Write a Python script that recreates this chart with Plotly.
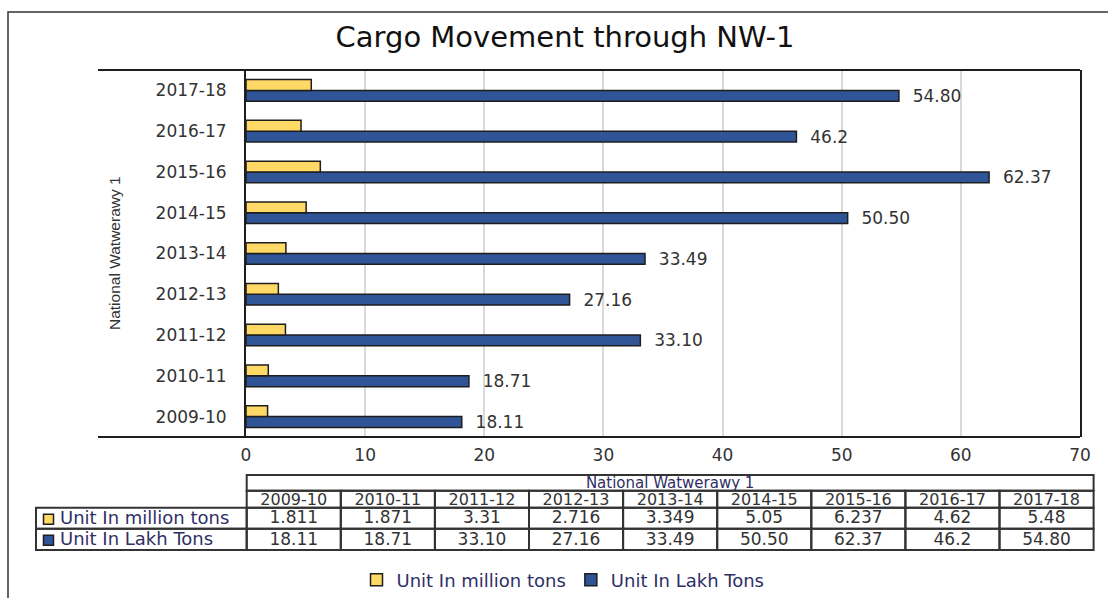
import plotly.graph_objects as go

# ---------------- data ----------------
years = ["2009-10", "2010-11", "2011-12", "2012-13", "2013-14",
         "2014-15", "2015-16", "2016-17", "2017-18"]
million_tons = [1.811, 1.871, 3.31, 2.716, 3.349, 5.05, 6.237, 4.62, 5.48]
lakh_tons = [18.11, 18.71, 33.10, 27.16, 33.49, 50.50, 62.37, 46.2, 54.80]
million_labels = ["1.811", "1.871", "3.31", "2.716", "3.349", "5.05", "6.237", "4.62", "5.48"]
lakh_labels = ["18.11", "18.71", "33.10", "27.16", "33.49", "50.50", "62.37", "46.2", "54.80"]
series_names = ["Unit In million tons", "Unit In Lakh Tons"]
table_title = "National Watwerawy 1"
chart_title = "Cargo Movement through NW-1"
x_ticks = [0, 10, 20, 30, 40, 50, 60, 70]

# ---------------- style ----------------
YELLOW = "#FFD966"
BLUE = "#2F5597"
EDGE = "#1e1e1e"
GRIDLINE = "#333333"
TXT = "#333333"
NAVY = "#2f2f66"
FONT = "DejaVu Sans"

W, H = 1108, 598
ML, MR, MT, MB = 30, 9, 70, 42
PW, PH = W - ML - MR, H - MT - MB


def px_x(p):  # pixel x -> paper x
    return (p - ML) / PW


def px_y(p):  # pixel y -> paper y
    return (H - MB - p) / PH


# table geometry (pixels, relative to the table's top-left corner)
TBL_LEFT, TBL_TOP = 36, 475
LABEL_W, COL_W = 210.7, 94.1
ROW_EDGES = [0, 15.7, 32.7, 53.7, 75]
TEXT_DROP = [1.0, 1.5, 1.0, 1.0]  # glyphs sit slightly above the text box centre
ncol = len(years)
col_left = [LABEL_W + i * COL_W for i in range(ncol)]
col_mid = [c + COL_W / 2 for c in col_left]
row_mid = [(ROW_EDGES[k] + ROW_EDGES[k + 1]) / 2 + TEXT_DROP[k] for k in range(4)]

fig = go.Figure()

# ---- bars (blue first so that it sits below yellow inside each group)
fig.add_trace(go.Bar(
    y=years, x=lakh_tons, orientation="h", name=series_names[1],
    marker=dict(color=BLUE, line=dict(color=EDGE, width=1.5)),
    text=lakh_labels, texttemplate="\u00a0\u00a0%{text}",
    textposition="outside", constraintext="none", cliponaxis=False,
    textfont=dict(family=FONT, size=17, color=TXT),
    legendrank=2, hoverinfo="x+y",
))
fig.add_trace(go.Bar(
    y=years, x=million_tons, orientation="h", name=series_names[0],
    marker=dict(color=YELLOW, line=dict(color=EDGE, width=1.5)),
    legendrank=1, hoverinfo="x+y",
))

# ---- data table drawn on its own axes (x2 / y2 in table pixels)
tbl_font = dict(family=FONT, size=17, color=TXT)
fig.add_trace(go.Scatter(
    x=[LABEL_W + ncol * COL_W / 2], y=[row_mid[0]], text=[table_title],
    mode="text", textposition="middle center",
    textfont=dict(family=FONT, size=15, color=NAVY),
    xaxis="x2", yaxis="y2", showlegend=False, hoverinfo="skip", cliponaxis=False,
))
fig.add_trace(go.Scatter(
    x=col_mid, y=[row_mid[1]] * ncol, text=years,
    mode="text", textposition="middle center",
    textfont=dict(family=FONT, size=16, color=TXT),
    xaxis="x2", yaxis="y2", showlegend=False, hoverinfo="skip", cliponaxis=False,
))
fig.add_trace(go.Scatter(
    x=col_mid, y=[row_mid[2]] * ncol, text=million_labels,
    mode="text", textposition="middle center", textfont=tbl_font,
    xaxis="x2", yaxis="y2", showlegend=False, hoverinfo="skip", cliponaxis=False,
))
fig.add_trace(go.Scatter(
    x=col_mid, y=[row_mid[3]] * ncol, text=lakh_labels,
    mode="text", textposition="middle center", textfont=tbl_font,
    xaxis="x2", yaxis="y2", showlegend=False, hoverinfo="skip", cliponaxis=False,
))
# row labels with their colour keys
fig.add_trace(go.Scatter(
    x=[12.5, 12.5], y=[row_mid[2], row_mid[3]],
    mode="markers", marker=dict(symbol="square", size=10,
                                color=[YELLOW, BLUE],
                                line=dict(color=EDGE, width=1.5)),
    xaxis="x2", yaxis="y2", showlegend=False, hoverinfo="skip",
))
fig.add_trace(go.Scatter(
    x=[24, 24], y=[row_mid[2], row_mid[3]], text=series_names,
    mode="text", textposition="middle right",
    textfont=dict(family=FONT, size=18, color=NAVY),
    xaxis="x2", yaxis="y2", showlegend=False, hoverinfo="skip", cliponaxis=False,
))

# table cell borders (drawn beneath the table text)
cell_line = dict(color=GRIDLINE, width=2)
shapes = []
shapes.append(dict(type="rect", xref="x2", yref="y2", layer="below",
                   x0=LABEL_W, x1=LABEL_W + ncol * COL_W,
                   y0=ROW_EDGES[0], y1=ROW_EDGES[1], line=cell_line))
for c in col_left:
    for k in (1, 2, 3):
        shapes.append(dict(type="rect", xref="x2", yref="y2", layer="below",
                           x0=c, x1=c + COL_W, y0=ROW_EDGES[k], y1=ROW_EDGES[k + 1],
                           line=cell_line))
for k in (2, 3):
    shapes.append(dict(type="rect", xref="x2", yref="y2", layer="below",
                       x0=0, x1=LABEL_W, y0=ROW_EDGES[k], y1=ROW_EDGES[k + 1],
                       line=cell_line))

# chart frame lines
shapes += [
    dict(type="line", xref="x domain", yref="y domain",
         x0=(98 - 246) / 834, x1=1, y0=1, y1=1, line=dict(color=EDGE, width=2)),
    dict(type="line", xref="x domain", yref="y domain",
         x0=(98 - 246) / 834, x1=1, y0=0, y1=0, line=dict(color=EDGE, width=2)),
    dict(type="rect", xref="paper", yref="paper",
         x0=px_x(8), x1=1.2, y0=-0.5, y1=px_y(12),
         line=dict(color="#333333", width=1.5), layer="below"),
]

fig.update_layout(
    template="none",
    width=W, height=H,
    margin=dict(l=ML, r=MR, t=MT, b=MB, pad=0, autoexpand=False),
    paper_bgcolor="white", plot_bgcolor="rgba(0,0,0,0)",
    barmode="group", bargap=0.47, bargroupgap=0,
    title=dict(text=chart_title, x=565 / W, xanchor="center",
               y=1 - 37 / H, yanchor="middle",
               font=dict(family=FONT, size=29, color="#111111")),
    font=dict(family=FONT, color=TXT),
    showlegend=True,
    legend=dict(orientation="h", xref="container", yref="container",
                x=563 / W, xanchor="center", y=1 - 580 / H, yanchor="middle",
                font=dict(family=FONT, size=18, color=NAVY),
                bgcolor="rgba(0,0,0,0)", traceorder="normal"),
    xaxis=dict(
        domain=[px_x(246), px_x(1080)], anchor="y",
        range=[0, 70], tickvals=x_ticks, ticks="",
        showgrid=True, gridcolor="#d9d9d9", gridwidth=2,
        zeroline=False, showline=False, automargin=False,
        tickfont=dict(family=FONT, size=17, color=TXT),
        ticklabelstandoff=6, fixedrange=True,
    ),
    yaxis=dict(
        domain=[px_y(437), px_y(70)], anchor="x",
        type="category", categoryorder="array", categoryarray=years,
        showgrid=False, zeroline=False, automargin=False,
        showline=True, mirror=True, linecolor=EDGE, linewidth=2,
        ticks="", ticklabelstandoff=14,
        tickfont=dict(family=FONT, size=17, color=TXT),
        fixedrange=True,
    ),
    xaxis2=dict(
        domain=[0, 1], anchor="y2", range=[ML - TBL_LEFT, ML - TBL_LEFT + PW],
        visible=False, fixedrange=True, automargin=False,
    ),
    yaxis2=dict(
        domain=[0, px_y(470)], anchor="x2",
        range=[(H - MB) - TBL_TOP, 470 - TBL_TOP],
        visible=False, fixedrange=True, automargin=False,
    ),
    shapes=shapes,
    annotations=[
        dict(text="National Watwerawy 1", xref="paper", yref="paper",
             x=px_x(114), y=px_y(253), xanchor="center", yanchor="middle",
             textangle=-90, showarrow=False,
             font=dict(family="Liberation Sans", size=15.5, color=TXT)),
    ],
)

# remove the browser's default 8px page margin so the figure fills the window
fig.write_html("out.html",
               config={"displayModeBar": False},
               post_script="document.body.style.margin='0px';")
